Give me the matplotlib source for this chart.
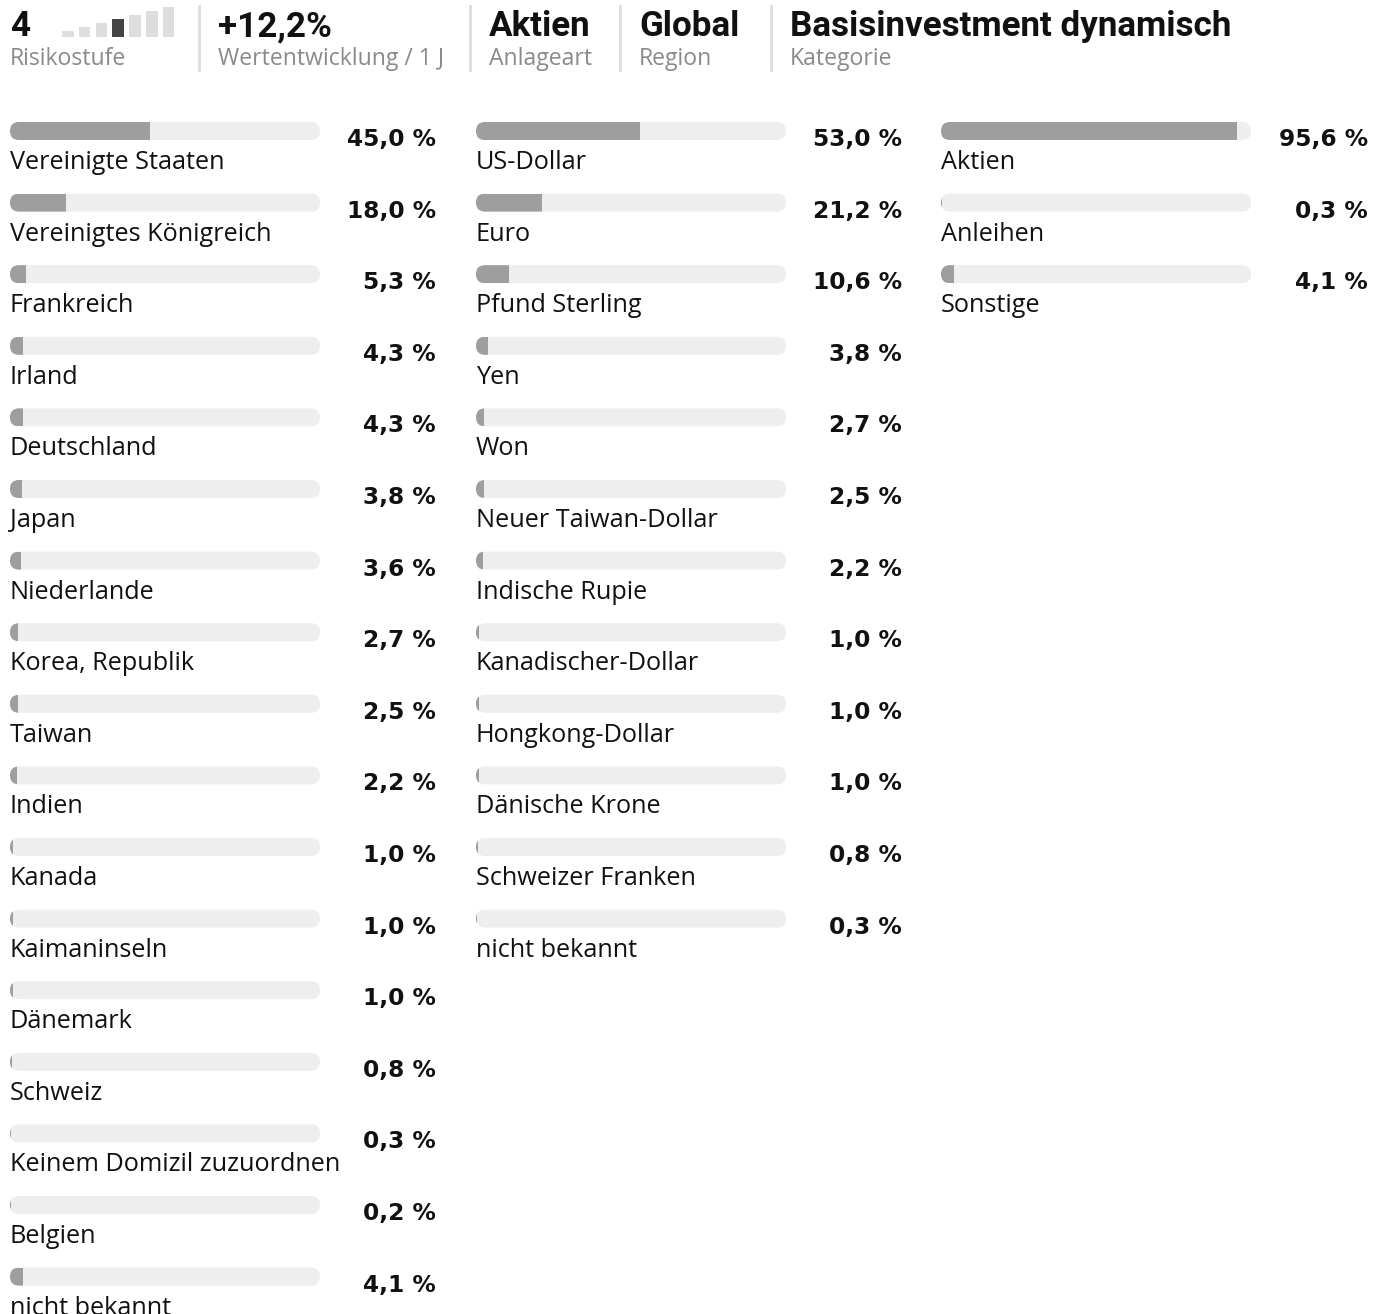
import matplotlib
matplotlib.use("Agg")
import matplotlib.pyplot as plt
from matplotlib.patches import FancyBboxPatch, Rectangle

# header
kopf_titel = ["+12,2%", "Aktien", "Global", "Basisinvestment dynamisch"]
kopf_unter = ["Wertentwicklung / 1 J", "Anlageart", "Region", "Kategorie"]
risikostufe = 4
risiko_stufen = 7

# columns of the breakdown
laender = ["Vereinigte Staaten", "Vereinigtes Königreich", "Frankreich", "Irland",
           "Deutschland", "Japan", "Niederlande", "Korea, Republik", "Taiwan", "Indien",
           "Kanada", "Kaimaninseln", "Dänemark", "Schweiz", "Keinem Domizil zuzuordnen",
           "Belgien", "nicht bekannt"]
laender_werte = [45.0, 18.0, 5.3, 4.3, 4.3, 3.8, 3.6, 2.7, 2.5, 2.2,
                 1.0, 1.0, 1.0, 0.8, 0.3, 0.2, 4.1]

waehrungen = ["US-Dollar", "Euro", "Pfund Sterling", "Yen", "Won", "Neuer Taiwan-Dollar",
              "Indische Rupie", "Kanadischer-Dollar", "Hongkong-Dollar", "Dänische Krone",
              "Schweizer Franken", "nicht bekannt"]
waehrungen_werte = [53.0, 21.2, 10.6, 3.8, 2.7, 2.5, 2.2, 1.0, 1.0, 1.0, 0.8, 0.3]

anlagen = ["Aktien", "Anleihen", "Sonstige"]
anlagen_werte = [95.6, 0.3, 4.1]

W, H = 1385, 1314
fig = plt.figure(figsize=(W / 100, H / 100), dpi=100)
ax = fig.add_axes([0, 0, 1, 1])
ax.set_xlim(0, W)
ax.set_ylim(H, 0)
ax.axis("off")

LABEL_FONT = ["Open Sans", "DejaVu Sans"]
VALUE_FONT = ["DejaVu Sans"]
HEAD_FONT = ["Roboto", "DejaVu Sans"]

TRACK = "#eeeeee"
FILL = "#9e9e9e"


def px(s):
    return s * 0.72


# --- header ---
ax.text(10, 36, str(risikostufe), fontsize=px(35), fontweight="bold",
        family=HEAD_FONT, color="#111111", va="baseline")
for i in range(risiko_stufen):
    x0 = 62 + i * 16.8
    h = 6 + i * 4
    c = "#444444" if i + 1 == risikostufe else "#dddddd"
    ax.add_patch(Rectangle((x0, 37 - h), 11.5, h, color=c, lw=0))
ax.text(10, 65, "Risikostufe", fontsize=px(23), family=LABEL_FONT,
        color="#8a8a8a", va="baseline")

kopf_x = [218, 489, 639, 790]
for x, t, u in zip(kopf_x, kopf_titel, kopf_unter):
    ax.plot([x - 19, x - 19], [6, 70], color="#dddddd", lw=2)
    ax.text(x, 36, t, fontsize=px(35), fontweight="bold", family=HEAD_FONT,
            color="#111111", va="baseline")
    ax.text(x, 65, u, fontsize=px(23), family=LABEL_FONT, color="#8a8a8a",
            va="baseline")


# --- bar columns ---
def spalte(x0, namen, werte, val_right):
    breite = 310
    for i, (n, v) in enumerate(zip(namen, werte)):
        y = 122 + i * 71.6
        track = FancyBboxPatch((x0, y), breite, 18,
                               boxstyle="round,pad=0,rounding_size=9",
                               fc=TRACK, ec="none")
        ax.add_patch(track)
        fill = Rectangle((x0, y), breite * v / 100, 18, fc=FILL, ec="none")
        ax.add_patch(fill)
        fill.set_clip_path(track)
        ax.text(val_right, y + 24, f"{v:.1f}".replace(".", ",") + " %",
                fontsize=px(23.3), fontweight="bold", family=VALUE_FONT,
                color="#111111", ha="right", va="baseline")
        ax.text(x0, y + 47, n, fontsize=px(25.2), family=LABEL_FONT,
                color="#111111", va="baseline")


spalte(10, laender, laender_werte, 436)
spalte(476, waehrungen, waehrungen_werte, 902)
spalte(941, anlagen, anlagen_werte, 1368)

fig.savefig("out.png", dpi=100, facecolor="white")
